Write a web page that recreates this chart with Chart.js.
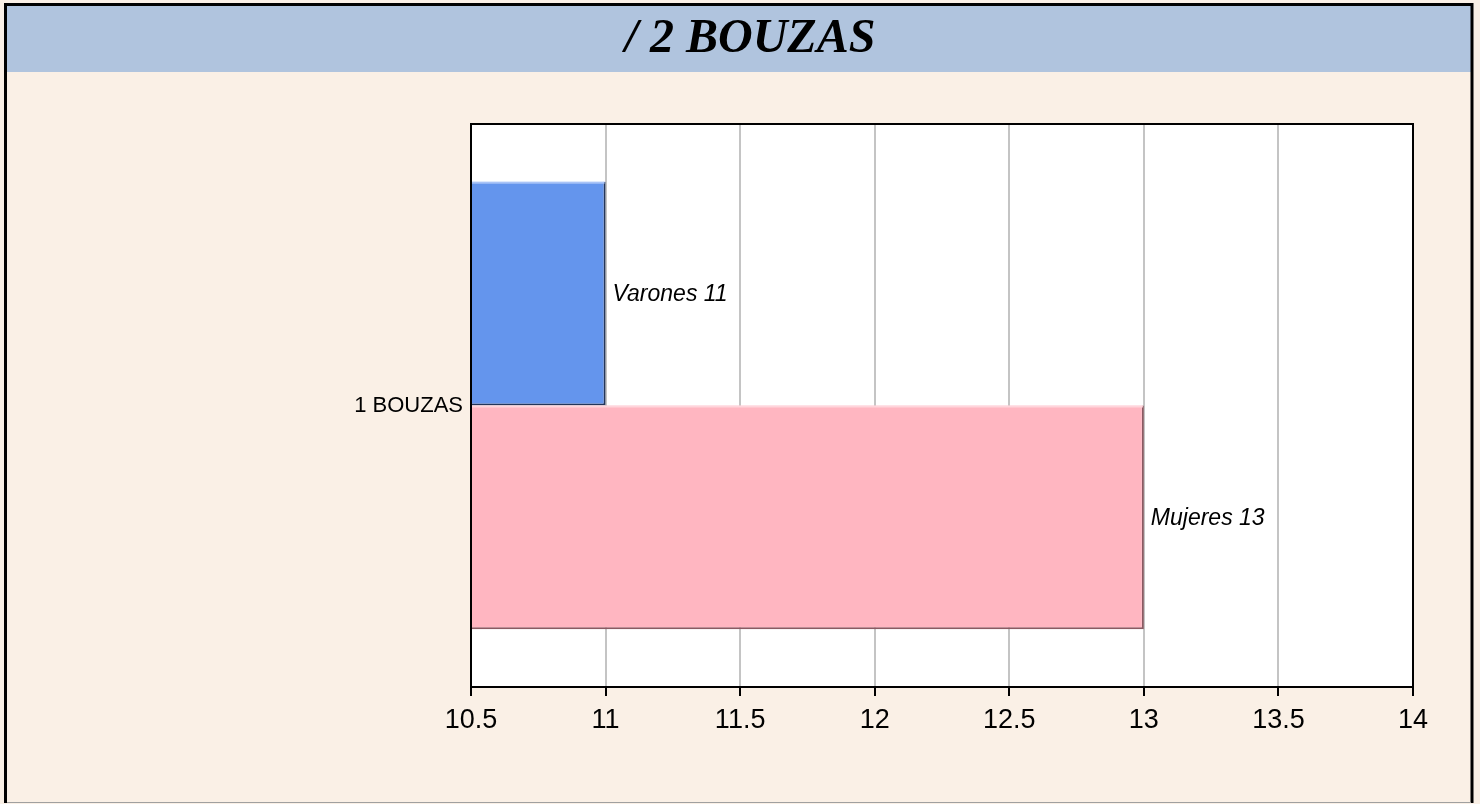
<!DOCTYPE html>
<html>
<head>
<meta charset="utf-8">
<script src="https://cdn.jsdelivr.net/npm/chart.js@4/dist/chart.umd.min.js"></script>
<style>
html,body{margin:0;padding:0;background:#faf0e6;}
#wrap{width:1480px;height:804px;position:relative;}
</style>
</head>
<body>
<div id="wrap"><canvas id="c" width="1480" height="804"></canvas></div>
<script>
const categories = ["1 BOUZAS"];
const seriesNames = ["Varones", "Mujeres"];
const varones = [11];
const mujeres = [13];
const xTicks = [10.5, 11, 11.5, 12, 12.5, 13, 13.5, 14];
const chartTitle = "/ 2 BOUZAS";

const framePlugin = {
  id: 'frame',
  beforeDraw(chart) {
    const ctx = chart.ctx;
    const W = chart.width, H = chart.height;
    ctx.save();
    ctx.fillStyle = '#faf0e6';
    ctx.fillRect(0, 0, W, H);
    ctx.fillStyle = '#b0c4de';
    ctx.fillRect(7, 6, 1464, 66);
    const a = chart.chartArea;
    ctx.fillStyle = '#ffffff';
    ctx.fillRect(a.left, a.top, a.right - a.left, a.bottom - a.top);
    ctx.strokeStyle = '#000000';
    ctx.lineWidth = 3;
    ctx.beginPath();
    ctx.moveTo(5.5, 803); ctx.lineTo(5.5, 4.5); ctx.lineTo(1472, 4.5); ctx.lineTo(1472, 803);
    ctx.stroke();
    ctx.strokeStyle = '#a0a0a0';
    ctx.lineWidth = 1;
    ctx.beginPath();
    ctx.moveTo(7, 802.5); ctx.lineTo(1471, 802.5);
    ctx.stroke();
    ctx.restore();
  },
  afterDatasetsDraw(chart) {
    // bevel highlight on bar top/left edges
    const ctx = chart.ctx;
    const a = chart.chartArea;
    const hl = ['#a9c4f7', '#ffd5dc'];
    ctx.save();
    chart.data.datasets.forEach((ds, i) => {
      chart.getDatasetMeta(i).data.forEach(bar => {
        const top = bar.y - bar.height / 2;
        ctx.fillStyle = hl[i];
        ctx.fillRect(a.left + 1, top, bar.x - a.left - 2, 2);
      });
    });
    ctx.restore();
  },
  afterDraw(chart) {
    const a = chart.chartArea;
    const ctx = chart.ctx;
    ctx.save();
    ctx.strokeStyle = '#000000';
    ctx.lineWidth = 2;
    ctx.strokeRect(a.left, a.top, a.right - a.left, a.bottom - a.top);
    ctx.restore();
  }
};

const labelPlugin = {
  id: 'barLabels',
  afterDatasetsDraw(chart) {
    const ctx = chart.ctx;
    ctx.save();
    ctx.font = 'italic 23px "Liberation Sans", Arial, sans-serif';
    ctx.fillStyle = '#000000';
    ctx.textAlign = 'left';
    ctx.textBaseline = 'middle';
    chart.data.datasets.forEach((ds, i) => {
      const meta = chart.getDatasetMeta(i);
      meta.data.forEach((bar, j) => {
        ctx.fillText(ds.label + ' ' + ds.data[j], bar.x + 7, bar.y + 1);
      });
    });
    ctx.restore();
  }
};

new Chart(document.getElementById('c'), {
  type: 'bar',
  data: {
    labels: categories,
    datasets: [
      {
        label: seriesNames[0],
        data: varones,
        backgroundColor: '#6495ed',
        borderColor: '#23355a',
        borderWidth: {top: 0, left: 0, right: 2, bottom: 2},
        borderSkipped: false,
        categoryPercentage: 0.795,
        barPercentage: 1.0
      },
      {
        label: seriesNames[1],
        data: mujeres,
        backgroundColor: '#ffb6c1',
        borderColor: '#8a5a62',
        borderWidth: {top: 0, left: 0, right: 2, bottom: 2},
        borderSkipped: false,
        categoryPercentage: 0.795,
        barPercentage: 1.0
      }
    ]
  },
  options: {
    indexAxis: 'y',
    responsive: false,
    animation: false,
    devicePixelRatio: 1,
    layout: {padding: {left: 87, right: 67, top: 0, bottom: 0}},
    plugins: {
      legend: {display: false},
      tooltip: {enabled: false},
      title: {
        display: true,
        text: chartTitle,
        color: '#000000',
        font: {family: '"Liberation Serif", "Times New Roman", serif', size: 48, style: 'italic', weight: 'bold', lineHeight: 1.2},
        padding: {top: 11, bottom: 55.4}
      }
    },
    scales: {
      x: {
        type: 'linear',
        min: xTicks[0],
        max: xTicks[xTicks.length - 1],
        afterBuildTicks(scale) { scale.ticks = xTicks.map(v => ({value: v})); },
        afterFit(scale) { scale.height = 117; },
        ticks: {
          color: '#000000',
          font: {family: '"Liberation Sans", Arial, sans-serif', size: 27},
          padding: 8,
          maxRotation: 0,
          autoSkip: false,
          callback: (v) => String(v)
        },
        grid: {
          color: '#c4c4c4',
          lineWidth: 2,
          tickColor: '#000000',
          tickLength: 9,
          tickWidth: 2
        },
        border: {color: '#000000', width: 2}
      },
      y: {
        type: 'category',
        afterFit(scale) { scale.width = 384; },
        ticks: {
          color: '#000000',
          font: {family: '"Liberation Sans", Arial, sans-serif', size: 22},
          padding: 8
        },
        grid: {display: false, drawTicks: false},
        border: {color: '#000000', width: 2}
      }
    }
  },
  plugins: [framePlugin, labelPlugin]
});
</script>
</body>
</html>
